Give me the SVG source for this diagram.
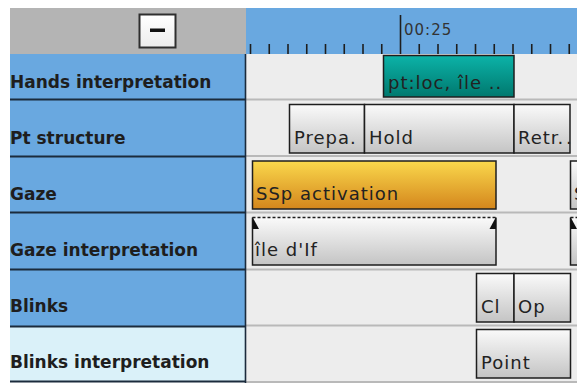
<svg xmlns="http://www.w3.org/2000/svg" width="577" height="383" viewBox="0 0 577 383">
<defs>
<linearGradient id="gGray" x1="0" y1="0" x2="0" y2="1"><stop offset="0" stop-color="#fafafa"/><stop offset="1" stop-color="#c4c4c4"/></linearGradient>
<linearGradient id="gTeal" x1="0" y1="0" x2="0" y2="1"><stop offset="0" stop-color="#0cb3a8"/><stop offset="1" stop-color="#00786e"/></linearGradient>
<linearGradient id="gOrange" x1="0" y1="0" x2="0" y2="1"><stop offset="0" stop-color="#fad84c"/><stop offset="1" stop-color="#d4861c"/></linearGradient>
<linearGradient id="gBtn" x1="0" y1="0" x2="0" y2="1"><stop offset="0" stop-color="#ffffff"/><stop offset="1" stop-color="#ececec"/></linearGradient>
<clipPath id="clipTl"><rect x="246" y="0" width="331" height="383"/></clipPath>
</defs>
<style>
.lbl{font-family:"DejaVu Sans","Liberation Sans",sans-serif;font-weight:bold;font-size:17px;fill:#1e1e1e}
.ann{font-family:"DejaVu Sans","Liberation Sans",sans-serif;font-size:18px;letter-spacing:1px;fill:#222}
.box{stroke:#1e1e1e;stroke-width:1.5}
.tick{stroke:#1e1e1e;stroke-width:1.6}
.sep{stroke:#1b2b3c;stroke-width:2}
.tsep{stroke:#b9b9b9;stroke-width:2}
.tri{fill:#111}
</style>
<rect x="0" y="0" width="577" height="383" fill="#ffffff"/>
<g id="header">
<rect x="10" y="8" width="236" height="46" fill="#b4b4b4"/>
<rect x="246" y="8" width="331" height="46" fill="#69a8e0"/>
<g id="collapse-button">
<rect x="139.5" y="14.5" width="36" height="33" fill="url(#gBtn)" stroke="#2e2e2e" stroke-width="2"/>
<rect x="150" y="28.5" width="15" height="3.5" fill="#111"/>
</g>
<g id="ruler">
<line class="tick" x1="250.5" y1="44" x2="250.5" y2="54"/>
<line class="tick" x1="269.25" y1="44" x2="269.25" y2="54"/>
<line class="tick" x1="288" y1="44" x2="288" y2="54"/>
<line class="tick" x1="306.75" y1="44" x2="306.75" y2="54"/>
<line class="tick" x1="325.5" y1="44" x2="325.5" y2="54"/>
<line class="tick" x1="344.25" y1="44" x2="344.25" y2="54"/>
<line class="tick" x1="363" y1="44" x2="363" y2="54"/>
<line class="tick" x1="381.75" y1="44" x2="381.75" y2="54"/>
<line class="tick" x1="400.5" y1="15" x2="400.5" y2="54"/>
<line class="tick" x1="419.25" y1="44" x2="419.25" y2="54"/>
<line class="tick" x1="438" y1="44" x2="438" y2="54"/>
<line class="tick" x1="456.75" y1="44" x2="456.75" y2="54"/>
<line class="tick" x1="475.5" y1="44" x2="475.5" y2="54"/>
<line class="tick" x1="494.25" y1="44" x2="494.25" y2="54"/>
<line class="tick" x1="513" y1="44" x2="513" y2="54"/>
<line class="tick" x1="531.75" y1="44" x2="531.75" y2="54"/>
<line class="tick" x1="550.5" y1="44" x2="550.5" y2="54"/>
<line class="tick" x1="569.25" y1="44" x2="569.25" y2="54"/>
<text x="404" y="35" font-family="DejaVu Sans, Liberation Sans, sans-serif" font-size="15" letter-spacing="1" fill="#333">00:25</text>
</g>
</g>
<g id="tier-labels">
<rect x="10" y="54" width="236" height="273" fill="#69a8e0"/>
<rect x="10" y="327" width="236" height="55" fill="#daf1f9"/>
<line class="sep" x1="10" y1="99.5" x2="246" y2="99.5"/>
<line class="sep" x1="10" y1="156.5" x2="246" y2="156.5"/>
<line class="sep" x1="10" y1="212.5" x2="246" y2="212.5"/>
<line class="sep" x1="10" y1="269.5" x2="246" y2="269.5"/>
<line class="sep" x1="10" y1="326.5" x2="246" y2="326.5"/>
<line class="sep" x1="10" y1="381.5" x2="246" y2="381.5"/>
<text class="lbl" x="10" y="88">Hands interpretation</text>
<text class="lbl" x="10" y="144">Pt structure</text>
<text class="lbl" x="10" y="200">Gaze</text>
<text class="lbl" x="10" y="256">Gaze interpretation</text>
<text class="lbl" x="10" y="312">Blinks</text>
<text class="lbl" x="10" y="368">Blinks interpretation</text>
</g>
<g id="timeline">
<rect x="246" y="54" width="331" height="329" fill="#ededed"/>
<line class="tsep" x1="246" y1="99.5" x2="577" y2="99.5"/>
<line class="tsep" x1="246" y1="156" x2="577" y2="156"/>
<line class="tsep" x1="246" y1="212.5" x2="577" y2="212.5"/>
<line class="tsep" x1="246" y1="269.5" x2="577" y2="269.5"/>
<line class="tsep" x1="246" y1="325.5" x2="577" y2="325.5"/>
<line class="tsep" x1="246" y1="382" x2="577" y2="382"/>
<line x1="245.5" y1="54" x2="245.5" y2="383" stroke="#1b2b3c" stroke-width="1.6"/>
</g>
<g id="annotations" clip-path="url(#clipTl)">
<g id="hands-1">
<rect class="box" x="383.5" y="55.5" width="130.5" height="41.5" fill="url(#gTeal)"/>
<text class="ann" x="388" y="89">pt:loc, île ..</text>
</g>
<g id="pt-prepa">
<rect class="box" x="289.5" y="104.5" width="75" height="48.5" fill="url(#gGray)"/>
<text class="ann" x="294" y="144">Prepa.</text>
</g>
<g id="pt-hold">
<rect class="box" x="364.5" y="104.5" width="149.5" height="48.5" fill="url(#gGray)"/>
<text class="ann" x="369" y="144">Hold</text>
</g>
<g id="pt-retr">
<rect class="box" x="514" y="104.5" width="56" height="48.5" fill="url(#gGray)"/>
<text class="ann" x="518" y="144">Retr.</text>
<text class="ann" x="566" y="144">.</text>
</g>
<g id="gaze-1">
<rect class="box" x="252.5" y="161" width="243.5" height="48" fill="url(#gOrange)"/>
<text class="ann" x="256" y="200">SSp activation</text>
</g>
<g id="gaze-2">
<rect class="box" x="570.5" y="161" width="20" height="48" fill="url(#gGray)"/>
<text class="ann" x="574" y="200">S</text>
</g>
<g id="gazeint-1">
<rect x="252.5" y="217.5" width="243.5" height="47.5" fill="url(#gGray)"/>
<path d="M252.5 217.5 V265 H496 V217.5" fill="none" stroke="#1e1e1e" stroke-width="1.5"/>
<line x1="252.5" y1="217.5" x2="496" y2="217.5" stroke="#1e1e1e" stroke-width="1.5" stroke-dasharray="3,2"/>
<polygon class="tri" points="252.5,217 252.5,229 259,229"/>
<polygon class="tri" points="496,217 496,229 489.5,229"/>
<text class="ann" x="255" y="256">île d'If</text>
</g>
<g id="gazeint-2">
<rect x="570.5" y="217.5" width="20" height="47.5" fill="url(#gGray)"/>
<path d="M570.5 217.5 V265 H590" fill="none" stroke="#1e1e1e" stroke-width="1.5"/>
<line x1="570.5" y1="217.5" x2="590" y2="217.5" stroke="#1e1e1e" stroke-width="1.5" stroke-dasharray="3,2"/>
<polygon class="tri" points="570.5,217 570.5,229 577,229"/>
</g>
<g id="blink-cl">
<rect class="box" x="476.5" y="273.5" width="37.5" height="48.5" fill="url(#gGray)"/>
<text class="ann" x="481" y="313">Cl</text>
</g>
<g id="blink-op">
<rect class="box" x="514" y="273.5" width="56.5" height="48.5" fill="url(#gGray)"/>
<text class="ann" x="518" y="313">Op</text>
</g>
<g id="blinkint-point">
<rect class="box" x="476.5" y="329.5" width="94" height="48.5" fill="url(#gGray)"/>
<text class="ann" x="481" y="369">Point</text>
</g>
</g>
<g id="connectors"/>
</svg>
